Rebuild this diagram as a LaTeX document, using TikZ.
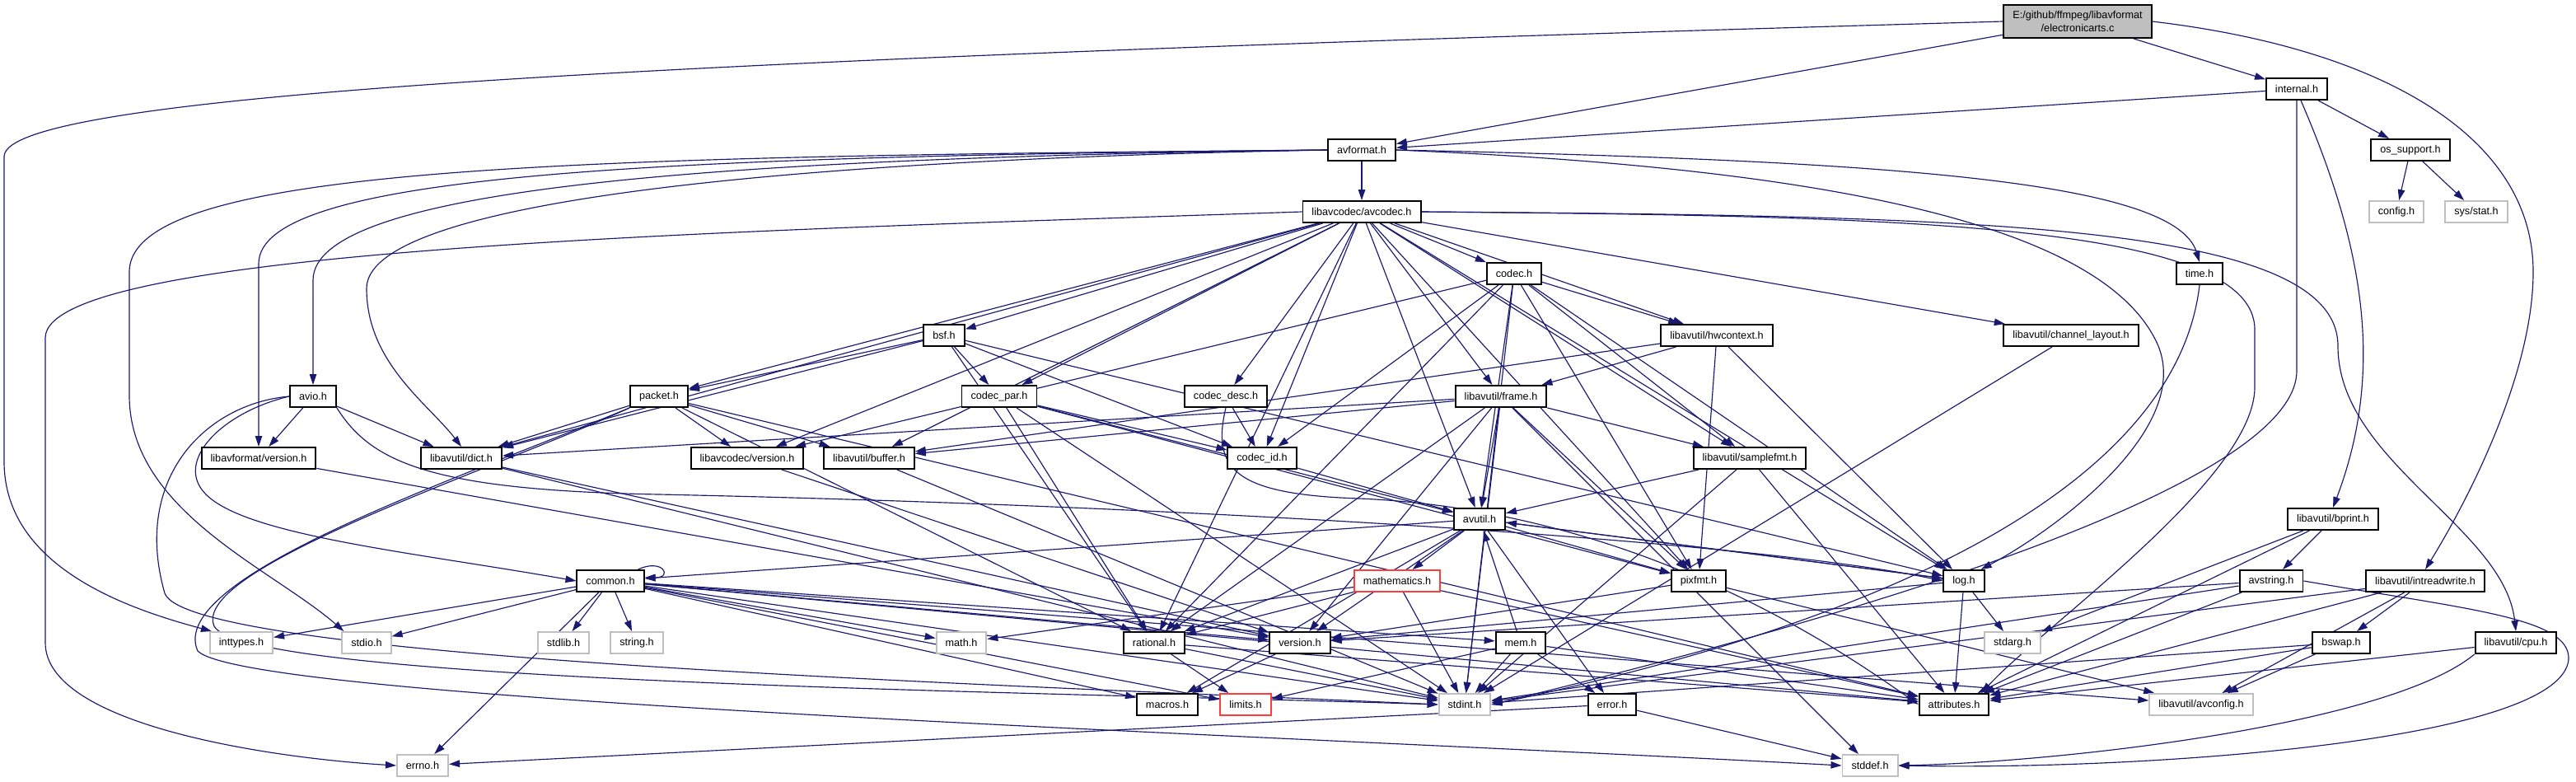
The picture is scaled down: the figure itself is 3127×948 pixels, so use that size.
\documentclass[tikz,border=0pt]{standalone}
\usepackage{fontspec}
\setmainfont{Liberation Sans}
\usetikzlibrary{arrows.meta,backgrounds}

\definecolor{edgeblue}{RGB}{25,25,112}
\definecolor{sysgray}{RGB}{191,191,191}
\definecolor{cutred}{RGB}{255,60,60}

\tikzset{
  hdr/.style={draw=black, fill=white, line width=0.55pt, inner xsep=0.11cm, inner ysep=0pt,
              minimum height=0.26cm, font=\fontsize{3.6}{4.3}\selectfont},
  syshdr/.style={hdr, draw=sysgray},
  cuthdr/.style={hdr, draw=cutred},
  inc/.style={edgeblue, line width=0.33pt, -{Triangle[length=0.13cm,width=0.085cm]}},
}

\begin{document}
\begin{tikzpicture}[x=0.01cm, y=-0.01cm]
        \useasboundingbox (0,0) rectangle (3127,948);

        % Файлы
        \node[hdr, fill=sysgray, align=center, minimum height=0.40cm] (ea) at (2522,26) {E:/github/ffmpeg/libavformat\\/electronicarts.c};
        \node[hdr] (internal) at (2788,108) {internal.h};
        \node[hdr] (osup) at (2926,182) {os\_support.h};
        \node[syshdr] (config) at (2909,257) {config.h};
        \node[syshdr] (sysstat) at (3006,257) {sys/stat.h};
        \node[hdr] (avf) at (1653,182) {avformat.h};
        \node[hdr] (avc) at (1653,257) {libavcodec/avcodec.h};
        \node[hdr] (codec) at (1838,332) {codec.h};
        \node[hdr] (time) at (2670,332) {time.h};
        \node[hdr] (hwctx) at (2084,407) {libavutil/hwcontext.h};
        \node[hdr] (chl) at (2514,407) {libavutil/channel\_layout.h};
        \node[hdr] (bsf) at (1146,407) {bsf.h};
        \node[hdr] (avio) at (380,481) {avio.h};
        \node[hdr] (packet) at (800,481) {packet.h};
        \node[hdr] (cpar) at (1213,481) {codec\_par.h};
        \node[hdr] (cdesc) at (1488,481) {codec\_desc.h};
        \node[hdr] (frame) at (1822,481) {libavutil/frame.h};
        \node[hdr] (lavfver) at (314,556) {libavformat/version.h};
        \node[hdr] (dict) at (560,556) {libavutil/dict.h};
        \node[hdr] (lavcver) at (907,556) {libavcodec/version.h};
        \node[hdr] (buffer) at (1055,556) {libavutil/buffer.h};
        \node[hdr] (cid) at (1532,556) {codec\_id.h};
        \node[hdr] (sfmt) at (2124,556) {libavutil/samplefmt.h};
        \node[hdr] (avutil) at (1796,630) {avutil.h};
        \node[hdr] (bprint) at (2832,630) {libavutil/bprint.h};
        \node[hdr] (common) at (741,705) {common.h};
        \node[cuthdr] (mathem) at (1696,705) {mathematics.h};
        \node[hdr] (pixfmt) at (2062,705) {pixfmt.h};
        \node[hdr] (log) at (2384,705) {log.h};
        \node[hdr] (avstring) at (2757,705) {avstring.h};
        \node[hdr] (irw) at (2944,705) {libavutil/intreadwrite.h};
        \node[syshdr] (itypes) at (293,780) {inttypes.h};
        \node[syshdr] (stdio) at (445,780) {stdio.h};
        \node[syshdr] (stdlib) at (684,780) {stdlib.h};
        \node[syshdr] (string) at (773,780) {string.h};
        \node[syshdr] (math) at (1167,780) {math.h};
        \node[hdr] (rational) at (1401,780) {rational.h};
        \node[hdr] (version) at (1578,780) {version.h};
        \node[hdr] (mem) at (1846,780) {mem.h};
        \node[syshdr] (stdarg) at (2443,780) {stdarg.h};
        \node[hdr] (bswap) at (2842,780) {bswap.h};
        \node[hdr] (cpu) at (3054,780) {libavutil/cpu.h};
        \node[hdr] (macros) at (1417,855) {macros.h};
        \node[cuthdr] (limits) at (1512,855) {limits.h};
        \node[syshdr] (stdint) at (1778,855) {stdint.h};
        \node[hdr] (error) at (1957,855) {error.h};
        \node[hdr] (attr) at (2372,855) {attributes.h};
        \node[syshdr] (avconfig) at (2672,855) {libavutil/avconfig.h};
        \node[syshdr] (errno) at (513,929) {errno.h};
        \node[syshdr] (stddef) at (2270,929) {stddef.h};

        \begin{pgfonlayer}{background}
        % Прямые включения
        \foreach \t in {avf,internal} \draw[inc] (ea) -- (\t);
        \foreach \t in {avf,osup} \draw[inc] (internal) -- (\t);
        \foreach \t in {config,sysstat} \draw[inc] (osup) -- (\t);
        \draw[inc] (avf) -- (avc);
        \foreach \t in {sfmt,avutil,buffer,chl,dict,frame,hwctx,log,pixfmt,rational,bsf,codec,cdesc,cpar,cid,packet,lavcver}
            \draw[inc] (avc) -- (\t);
        \foreach \t in {dict,packet,cpar,rational,cid,log} \draw[inc] (bsf) -- (\t);
        \foreach \t in {dict,lavcver,buffer,attr,rational} \draw[inc] (packet) -- (\t);
        \foreach \t in {stdint,rational,cid,avutil,pixfmt} \draw[inc] (cpar) -- (\t);
        \draw[inc] (cdesc) -- (cid);
        \draw[inc] (cid) -- (avutil);
        \foreach \t in {lavcver,cid,stdint,rational,avutil,hwctx,sfmt,pixfmt,log} \draw[inc] (codec) -- (\t);
        \foreach \t in {buffer,frame,log,pixfmt} \draw[inc] (hwctx) -- (\t);
        \foreach \t in {dict,buffer,avutil,sfmt,stddef,stdint,rational,version,pixfmt} \draw[inc] (frame) -- (\t);
        \foreach \t in {avutil,stdint,attr} \draw[inc] (sfmt) -- (\t);
        \draw[inc] (chl) -- (stdint);
        \foreach \t in {common,error,rational,version,macros,mathem,log,pixfmt} \draw[inc] (avutil) -- (\t);
        \foreach \t in {math,rational,stdint,attr} \draw[inc] (mathem) -- (\t);
        \foreach \t in {itypes,stdio,stdlib,string,math,errno,limits,stdint,attr,macros,version,avconfig,mem}
            \draw[inc] (common) -- (\t);
        \foreach \t in {stdint,limits,attr} \draw[inc] (rational) -- (\t);
        \draw[inc] (version) -- (macros);
        \foreach \t in {version,avconfig} \draw[inc] (pixfmt) -- (\t);
        \foreach \t in {stdarg,avutil,attr,version} \draw[inc] (log) -- (\t);
        \foreach \t in {limits,stdint,error,avutil,attr} \draw[inc] (mem) -- (\t);
        \foreach \t in {errno,stddef} \draw[inc] (error) -- (\t);
        \foreach \t in {stdarg,avstring,attr} \draw[inc] (bprint) -- (\t);
        \foreach \t in {version,stdint,attr} \draw[inc] (avstring) -- (\t);
        \foreach \t in {bswap,stdint,attr,avconfig} \draw[inc] (irw) -- (\t);
        \foreach \t in {stdint,attr,avconfig} \draw[inc] (bswap) -- (\t);
        \draw[inc] (cpu) -- (attr);
        \foreach \t in {stdint,version} \draw[inc] (dict) -- (\t);
        \draw[inc] (buffer) -- (stdint);
        \draw[inc] (lavcver) -- (version);
        \draw[inc] (lavfver) -- (version);
        \foreach \t in {lavfver,dict} \draw[inc] (avio) -- (\t);

        % Длинные дуги
        \draw[inc] (ea.west) .. controls (900,70) and (5,110) .. (5,190) -- (5,560)
            .. controls (5,690) and (160,740) .. ([xshift=0.03cm]itypes.north west);
        \draw[inc] (ea.east) .. controls (2900,60) and (3075,170) .. (3075,330)
            .. controls (3075,450) and (3000,600) .. (irw.north);
        \draw[inc] ([xshift=0.05cm]internal.south) .. controls (2870,300) and (2895,450) .. (bprint.north);
        \draw[inc] (internal.south) -- (2788,450) .. controls (2788,560) and (2450,700) .. (stdint.east);
        \draw[inc] (avc.east) .. controls (2300,262) and (2737,270) .. (2737,400) -- (2737,470)
            .. controls (2737,580) and (2480,760) .. ([xshift=-0.1cm]attr.north east);
        \draw[inc] (avc.east) .. controls (2400,262) and (2838,270) .. (2838,420)
            .. controls (2838,560) and (3040,640) .. (cpu.north);
        \draw[inc] (avc.west) .. controls (900,280) and (55,300) .. (55,410) -- (55,780)
            .. controls (55,880) and (330,920) .. (errno.west);
        \draw[inc] (avf.east) .. controls (2300,195) and (2640,220) .. (time.north);
        \draw[inc] (avf.east) .. controls (2250,205) and (2560,280) .. (2620,420)
            .. controls (2660,520) and (2500,640) .. ([xshift=-0.05cm]log.north east);
        \draw[inc] (avf.west) .. controls (700,190) and (157,200) .. (157,330) -- (157,480)
            .. controls (157,620) and (330,690) .. ([xshift=0.03cm]stdio.north west);
        \draw[inc] (avf.west) .. controls (800,190) and (314,210) .. (314,320) -- (lavfver.north);
        \draw[inc] (avf.west) .. controls (850,192) and (380,230) .. (380,340) -- (avio.north);
        \draw[inc] (avf.west) .. controls (900,195) and (445,250) .. (445,350)
            .. controls (445,440) and (520,490) .. (dict.north);
        \draw[inc] (packet.south west) .. controls (560,580) and (200,700) .. (240,790)
            .. controls (300,850) and (1500,890) .. (stddef.west);
        \draw[inc] (packet.south west) .. controls (600,570) and (230,690) .. (260,760)
            .. controls (300,830) and (1300,840) .. (stdint.west);
        \draw[inc] (avio.west) .. controls (250,490) and (160,580) .. (200,720)
            .. controls (230,800) and (1200,830) .. (stdint.west);
        \draw[inc] (avio.west) .. controls (270,500) and (210,560) .. (250,600)
            .. controls (300,650) and (500,670) .. (common.west);
        \draw[inc] (avio.south east) .. controls (450,560) and (520,595) .. (800,600)
            .. controls (1500,615) and (2150,660) .. (log.west);
        \draw[inc] (avstring.east) .. controls (3000,740) and (3120,750) .. (3118,800)
            .. controls (3110,900) and (2600,935) .. (stddef.east);
        \draw[inc] (cpu.south west) .. controls (2900,880) and (2500,925) .. (stddef.east);
        \draw[inc] (cdesc.south) .. controls (1470,570) and (1500,600) .. (1650,605)
            .. controls (2000,620) and (2250,800) .. (attr.west);
        \draw[inc] (time.south) .. controls (2650,520) and (2450,720) .. (stdint.east);
        \draw[inc] ([xshift=-0.08cm]common.north east) .. controls +(30,-14) and +(35,0) .. ([yshift=0.04cm]common.east);
        \end{pgfonlayer}
\end{tikzpicture}
\end{document}
